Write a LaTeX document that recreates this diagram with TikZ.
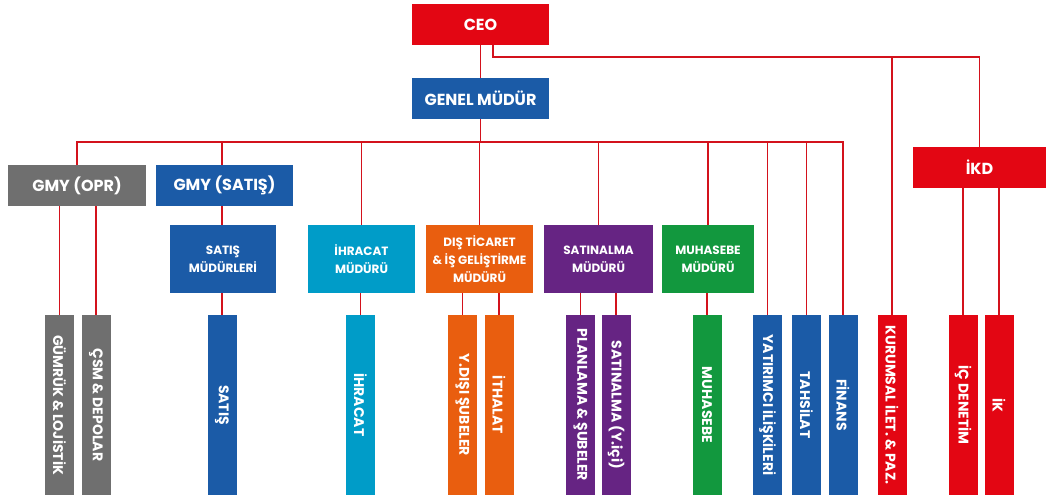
\documentclass[tikz,border=0pt]{standalone}
\usepackage{fontspec}
\setmainfont{Poppins}
\usepackage{xcolor}
\usetikzlibrary{positioning,backgrounds}

\definecolor{cred}{HTML}{E30613}
\definecolor{cline}{HTML}{D3121C}
\definecolor{cgrey}{HTML}{6F6F6F}
\definecolor{cblue}{HTML}{1B5BA7}
\definecolor{ccyan}{HTML}{009CC8}
\definecolor{corange}{HTML}{E95E0F}
\definecolor{cpurple}{HTML}{662483}
\definecolor{cgreen}{HTML}{12983E}

\begin{document}
\begin{tikzpicture}[x=1pt, y=-1pt,
    box/.style={rectangle, text=white, inner sep=0pt, align=center, font=\bfseries},
    topbox/.style={box, minimum width=137pt, minimum height=41pt, font=\bfseries\fontsize{16}{18}\selectfont},
    midbox/.style={box, minimum height=68pt, font=\bfseries\fontsize{12}{18}\selectfont},
    bar/.style={box, rotate=-90, minimum width=180pt, minimum height=29pt, font=\bfseries\fontsize{14}{16}\selectfont},
    link/.style={draw=cline, line width=1.25pt}]
    \useasboundingbox (0,0) rectangle (1046,497);

    % Top level
    \node[topbox, fill=cred] (CEO) at (480.5,24.5) {CEO};
    \node[topbox, fill=cblue] (GM) at (480.5,98.5) {GENEL MÜDÜR};
    \node[topbox, fill=cgrey, minimum width=138pt] (OPR) at (77,185.5) {GMY (OPR)};
    \node[topbox, fill=cblue] (GS) at (224.5,185.5) {GMY (SATIŞ)};
    \node[topbox, fill=cred, minimum width=133pt] (IKD) at (979.5,167.5) {İKD};

    % Managers
    \node[midbox, fill=cblue, minimum width=106pt] (SM) at (223,259) {SATIŞ\\MÜDÜRLERİ};
    \node[midbox, fill=ccyan, minimum width=107pt] (IM) at (361.5,259) {İHRACAT\\MÜDÜRÜ};
    \node[midbox, fill=corange, minimum width=107pt] (DT) at (479.5,259) {DIŞ TİCARET\\\& İŞ GELİŞTİRME\\MÜDÜRÜ};
    \node[midbox, fill=cpurple, minimum width=109pt] (SA) at (598.5,259) {SATINALMA\\MÜDÜRÜ};
    \node[midbox, fill=cgreen, minimum width=92pt] (MU) at (708,259) {MUHASEBE\\MÜDÜRÜ};

    % Departments (rotated, so west is the top end)
    \node[bar, fill=cgrey] (GUM) at (59.5,405) {GÜMRÜK \& LOJİSTİK};
    \node[bar, fill=cgrey] (CSM) at (96,405) {ÇSM \& DEPOLAR};
    \node[bar, fill=cblue] (SAT) at (222,405) {SATIŞ};
    \node[bar, fill=ccyan] (IHR) at (360.5,405) {İHRACAT};
    \node[bar, fill=corange] (YDS) at (462.5,405) {Y.DIŞI ŞUBELER};
    \node[bar, fill=corange] (ITH) at (499,405) {İTHALAT};
    \node[bar, fill=cpurple] (PLS) at (580.5,405) {PLANLAMA \& ŞUBELER};
    \node[bar, fill=cpurple] (SYI) at (616,405) {SATINALMA (Y.içi)};
    \node[bar, fill=cgreen] (MUH) at (707,405) {MUHASEBE};
    \node[bar, fill=cblue] (YAT) at (767.5,405) {YATIRIMCI İLİŞKİLERİ};
    \node[bar, fill=cblue] (TAH) at (806.5,405) {TAHSİLAT};
    \node[bar, fill=cblue] (FIN) at (843,405) {FİNANS};
    \node[bar, fill=cred] (KUR) at (892,405) {KURUMSAL İLET. \& PAZ.};
    \node[bar, fill=cred] (ICD) at (963,405) {İÇ DENETİM};
    \node[bar, fill=cred] (IK) at (999,405) {İK};

    \coordinate (bus) at (480.5,142);
    \coordinate (ceoR) at (493,45);
    \coordinate (ikdbus) at (700,57);

    \begin{scope}[on background layer]
    % CEO and general manager
    \draw[link] (CEO.south) -- (GM.north);
    \draw[link] (GM.south) -- (bus);
    \draw[link] (OPR.north) |- (bus) -| (FIN.west);
    \draw[link] (SAT.west |- bus) -- (SAT.west);
    \draw[link] (IM.north |- bus) -- (IM.north);
    \draw[link] (DT.north |- bus) -- (DT.north);
    \draw[link] (SA.north |- bus) -- (SA.north);
    \draw[link] (MU.north |- bus) -- (MU.north);
    \draw[link] (YAT.west |- bus) -- (YAT.west);
    \draw[link] (TAH.west |- bus) -- (TAH.west);

    % Departments under managers
    \draw[link] (GUM.west |- OPR.south) -- (GUM.west);
    \draw[link] (CSM.west |- OPR.south) -- (CSM.west);
    \draw[link] (IHR.west |- IM.south) -- (IHR.west);
    \draw[link] (YDS.west |- DT.south) -- (YDS.west);
    \draw[link] (ITH.west |- DT.south) -- (ITH.west);
    \draw[link] (PLS.west |- SA.south) -- (PLS.west);
    \draw[link] (SYI.west |- SA.south) -- (SYI.west);
    \draw[link] (MUH.west |- MU.south) -- (MUH.west);

    % CEO to IKD
    \draw[link] (ceoR) |- (ikdbus -| IKD.north) -- (IKD.north);
    \draw[link] (KUR.west |- ikdbus) -- (KUR.west);
    \draw[link] (ICD.west |- IKD.south) -- (ICD.west);
    \draw[link] (IK.west |- IKD.south) -- (IK.west);
    \end{scope}
\end{tikzpicture}
\end{document}
